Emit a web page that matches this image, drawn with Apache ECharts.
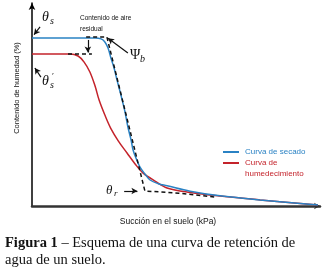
<!DOCTYPE html>
<html>
<head>
<meta charset="utf-8">
<script src="https://cdn.jsdelivr.net/npm/echarts@6/dist/echarts.min.js"></script>
<style>
html, body { margin: 0; padding: 0; background: #fff; }
#retencionEch { width: 324px; height: 269px; }
</style>
</head>
<body>
<div id="retencionEch"></div>
<script>
// succion (escala esquematica 0-100) vs contenido de humedad (%)
const curvaSecado = [
  [0, 82.8], [21.9, 82.8], [24.0, 82.3], [25.3, 80.8], [26.4, 77.8], [27.4, 72.9],
  [28.5, 68.0], [29.5, 62.1], [30.6, 56.2], [31.3, 52.2], [32.3, 46.3], [33.3, 38.9],
  [34.4, 32.5], [35.1, 27.6], [36.1, 23.6], [37.5, 19.2], [39.2, 15.8], [41.0, 12.8],
  [43.8, 11.0], [46.9, 10.0], [54.9, 7.3], [65.3, 5.0], [79.2, 3.0], [99.3, 0.5]
]
const curvaHumedecimiento = [
  [0, 74.9], [13.2, 74.9], [16.0, 73.9], [18.1, 70.9], [20.1, 66.0], [21.9, 59.1],
  [23.3, 52.2], [25.3, 44.8], [27.3, 38.4], [30.0, 32.0], [33.0, 26.1], [35.8, 20.7],
  [38.5, 16.3], [42.7, 12.3], [46.9, 8.9], [54.9, 6.7], [65.3, 4.9], [79.2, 3.0], [99.3, 0.5]
]
// construccion grafica (tangentes)
const tangenteSecado = [[18.8, 83.3], [26.0, 83.3], [39.2, 7.4], [51.0, 6.3], [63.5, 4.4]]
const nivelHumedecimiento = [[12.5, 74.9], [20.8, 74.9]]
// flechas de las anotaciones [desde, hasta]
const flechas = [
  [[2.8, 88.2], [0.7, 84.4]],    // theta_s
  [[3.1, 63.5], [1.0, 68.0]],    // theta_s'
  [[33.3, 75.4], [26.4, 82.6]],  // psi_b
  [[32.0, 7.4], [36.6, 7.4]],    // theta_r
  [[19.4, 81.8], [19.4, 75.6]]   // aire residual
]

const azul = '#2a82c4'
const rojo = '#c4232b'
const sans = 'Liberation Sans, Arial, sans-serif'
const serif = 'Liberation Serif, Times New Roman, serif'

function texto(x, y, text, size, extra) {
  return {
    type: 'text', x, y,
    style: Object.assign({
      text, font: size + 'px ' + sans, fill: '#111',
      align: 'left', verticalAlign: 'middle',
      textAlign: 'left', textVerticalAlign: 'middle'
    }, extra || {})
  }
}
function griego(x, y, text, size, italic) {
  return texto(x, y, text, size, { font: (italic ? 'italic ' : '') + size + 'px ' + serif })
}

const tituloY = texto(17, 88, 'Contenido de humedad (%)', 7.5, { align: 'center', textAlign: 'center' })
tituloY.rotation = Math.PI / 2

const chart = echarts.init(document.getElementById('retencionEch'))
chart.setOption({
  animation: false,
  grid: { left: 32, right: 4, top: 3, bottom: 63 },
  xAxis: {
    type: 'value', min: 0, max: 100,
    axisLine: { show: true, symbol: ['none', 'arrow'], symbolSize: [5, 6], lineStyle: { color: '#333', width: 2.5 } },
    axisTick: { show: false }, axisLabel: { show: false }, splitLine: { show: false }
  },
  yAxis: {
    type: 'value', min: 0, max: 100,
    axisLine: { show: true, symbol: ['none', 'arrow'], symbolSize: [5, 7], lineStyle: { color: '#000', width: 1.5 } },
    axisTick: { show: false }, axisLabel: { show: false }, splitLine: { show: false }
  },
  series: [
    {
      name: 'Curva de humedecimiento', type: 'line', data: curvaHumedecimiento,
      smooth: 0.35, symbol: 'none', lineStyle: { color: rojo, width: 1.5 }, z: 2
    },
    {
      name: 'Curva de secado', type: 'line', data: curvaSecado,
      smooth: 0.35, symbol: 'none', lineStyle: { color: azul, width: 1.5 }, z: 3
    },
    {
      type: 'line', data: tangenteSecado, symbol: 'none', z: 4,
      lineStyle: { color: '#111', width: 1.5, type: [4, 3] }
    },
    {
      type: 'line', data: nivelHumedecimiento, symbol: 'none', z: 4,
      lineStyle: { color: '#111', width: 1.5, type: [4, 3] },
      markLine: {
        silent: true, symbol: ['none', 'arrow'], symbolSize: [5, 6],
        label: { show: false },
        lineStyle: { color: '#111', width: 1.2, type: 'solid' },
        data: flechas.map(([a, b]) => [{ coord: a }, { coord: b }])
      }
    }
  ],
  graphic: [
    tituloY,
    texto(168, 222, 'Succión en el suelo (kPa)', 8.5, { align: 'center', textAlign: 'center' }),
    texto(80, 18, 'Contenido de aire', 6.5),
    texto(80, 29, 'residual', 6.5),
    griego(42, 17, 'θ', 14, true),
    griego(50, 21, 's', 10, true),
    griego(42, 81, 'θ', 14, true),
    griego(50, 85, 's', 10, true),
    griego(52, 77, '′', 9, false),
    griego(130, 55, 'Ψ', 14, false),
    griego(140, 59, 'b', 10, true),
    griego(106, 191, 'θ', 13, true),
    griego(114, 194, 'r', 9, true),
    { type: 'line', shape: { x1: 223, y1: 152, x2: 239, y2: 152 }, style: { stroke: azul, lineWidth: 2 } },
    { type: 'line', shape: { x1: 223, y1: 163, x2: 239, y2: 163 }, style: { stroke: rojo, lineWidth: 2 } },
    texto(245, 152, 'Curva de secado', 8, { fill: azul }),
    texto(245, 163, 'Curva de', 8, { fill: rojo }),
    texto(245, 174, 'humedecimiento', 8, { fill: rojo }),
    texto(5, 243, '{b|Figura 1} – Esquema de una curva de retención de', 14.5, {
      font: '14.5px ' + serif,
      rich: { b: { fontWeight: 'bold', fontFamily: serif, fontSize: 14.5 } }
    }),
    texto(5, 260, 'agua de un suelo.', 14.5, { font: '14.5px ' + serif })
  ]
})
</script>
</body>
</html>
